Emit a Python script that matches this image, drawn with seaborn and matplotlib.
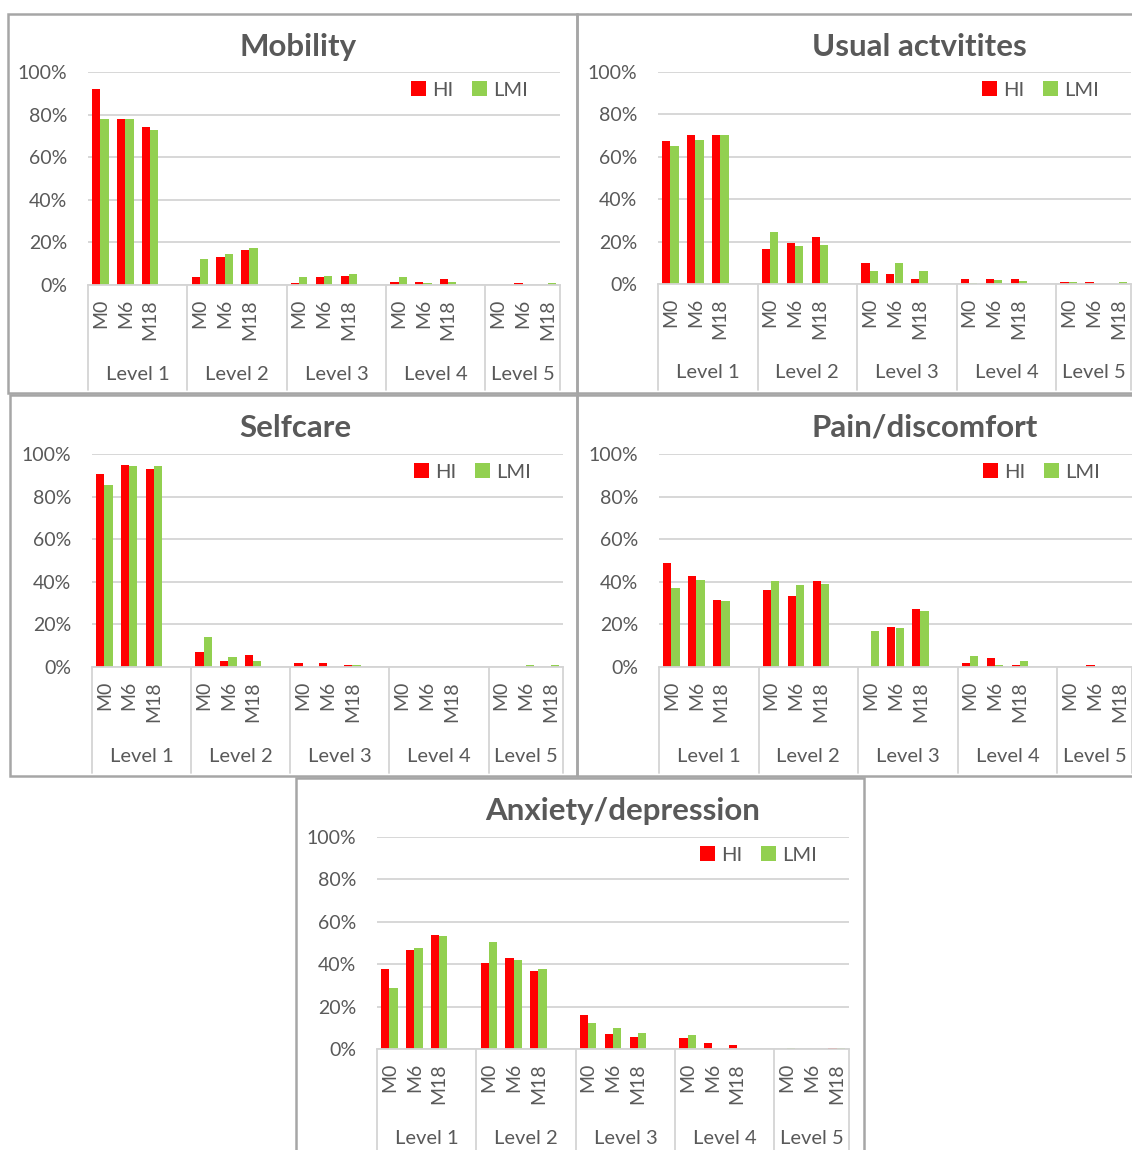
import matplotlib
matplotlib.use('Agg')
import matplotlib.pyplot as plt
from matplotlib.patches import Rectangle
from matplotlib.transforms import blended_transform_factory
import seaborn as sns
import pandas as pd

# ---- data (percent), order: Level 1..5 x M0, M6, M18 ----
levels = ['Level 1', 'Level 2', 'Level 3', 'Level 4', 'Level 5']
periods = ['M0', 'M6', 'M18']
groups = ['HI', 'LMI']

mobility_hi = [92, 78, 74, 3.6, 13.3, 16.6, 0.8, 3.8, 4.4, 1.6, 1.6, 2.7, 0, 0.8, 0]
mobility_lmi = [77.7, 78, 73, 12, 14.7, 17.2, 3.9, 4, 5.2, 3.9, 0.8, 1.6, 0, 0, 0.8]

usual_hi = [67.5, 70.2, 70.5, 16.7, 19.4, 22.3, 9.8, 4.7, 2.5, 2.5, 2.5, 2.5, 0.8, 0.8, 0]
usual_lmi = [65.3, 68, 70.5, 24.4, 18, 18.4, 6.2, 10, 6.1, 0.6, 1.7, 1.4, 0.8, 0, 0.8]

selfcare_hi = [90.7, 94.8, 93, 7, 3, 5.8, 1.9, 1.9, 1.1, 0, 0, 0, 0, 0, 0]
selfcare_lmi = [85.3, 94.2, 94.4, 14.3, 4.5, 3, 0, 0, 0.9, 0, 0, 0, 0, 0.9, 0.9]

pain_hi = [48.6, 42.8, 31.3, 36, 33.5, 40.4, 0, 18.7, 27.1, 2, 4.1, 1.1, 0, 1.1, 0]
pain_lmi = [37.3, 40.9, 30.9, 40.3, 38.4, 39, 16.8, 18.5, 26.3, 5.3, 1.1, 3, 0, 0, 0]

anxiety_hi = [37.8, 46.9, 54, 40.5, 42.7, 36.7, 16, 7.2, 5.8, 5, 3, 1.9, 0, 0, 0.6]
anxiety_lmi = [28.9, 47.6, 53.2, 50.4, 41.8, 37.7, 12.2, 10, 7.7, 6.4, 0, 0, 0.6, 0, 0.6]

# ---- style ----
RED = '#FF0000'
GREEN = '#92D050'
TXT = '#595959'
GRID = '#D4D4D4'
BORDER = '#A6A6A6'

sns.set_style('white')
plt.rcParams['font.family'] = ['Lato', 'DejaVu Sans']

W, H = 1132, 1150
fig = plt.figure(figsize=(W / 100, H / 100), dpi=100)


def px_axes(x0, y0, x1, y1):
    return fig.add_axes([x0 / W, 1 - y1 / H, (x1 - x0) / W, (y1 - y0) / H])


def slot_order():
    order = []
    for i, lev in enumerate(levels):
        for p in periods:
            order.append(f'{lev}|{p}')
        if i < len(levels) - 1:
            order.append(f'{lev}|gap')
    return order


def draw_panel(box, plot, title, title_x, hi, lmi):
    # panel frame
    bx0, by0, bx1, by1 = box
    fig.add_artist(Rectangle((bx0 / W, 1 - by1 / H), (bx1 - bx0) / W, (by1 - by0) / H,
                             transform=fig.transFigure, fill=False,
                             edgecolor=BORDER, linewidth=1.8))
    fig.text(title_x / W, 1 - (by0 + 33) / H, title, ha='center', va='center',
             fontsize=22.5, fontweight='bold', color=TXT)

    rows = []
    for li, lev in enumerate(levels):
        for pi, p in enumerate(periods):
            k = li * 3 + pi
            rows.append({'slot': f'{lev}|{p}', 'group': 'HI', 'value': hi[k]})
            rows.append({'slot': f'{lev}|{p}', 'group': 'LMI', 'value': lmi[k]})
    df = pd.DataFrame(rows)
    order = slot_order()

    ax = px_axes(*plot)
    sns.barplot(data=df, x='slot', y='value', hue='group', order=order,
                hue_order=groups, palette=[RED, GREEN], saturation=1,
                width=0.667, linewidth=0, errorbar=None, ax=ax)

    ax.set_ylim(0, 100)
    ax.set_xlim(-0.5, len(order) - 0.5)
    ax.set_yticks(range(0, 101, 20))
    ax.set_yticklabels([f'{v}%' for v in range(0, 101, 20)])
    ax.yaxis.grid(True, color=GRID, linewidth=1.3)
    ax.set_axisbelow(True)
    for s in ['left', 'right', 'top']:
        ax.spines[s].set_visible(False)
    ax.spines['bottom'].set_color(GRID)
    ax.spines['bottom'].set_linewidth(1.3)
    ax.tick_params(axis='y', length=0, pad=15, labelsize=14, labelcolor=TXT)
    ax.tick_params(axis='x', length=0, pad=10, labelsize=14, labelcolor=TXT)

    ax.set_xticks(range(len(order)))
    ax.set_xticklabels([s.split('|')[1] if not s.endswith('gap') else '' for s in order],
                       rotation=90)
    ax.set_xlabel('')
    ax.set_ylabel('')

    # level separators and labels below the axis
    trans = blended_transform_factory(ax.transData, ax.transAxes)
    depth = (box[3] - plot[3] - 3) / (plot[3] - plot[1])
    bounds = [-0.5, 3.5, 7.5, 11.5, 15.5, len(order) - 0.5]
    for b in bounds:
        ax.plot([b, b], [0, -depth], transform=trans, color=GRID,
                linewidth=1.3, clip_on=False)
    label_y = -(89 / (plot[3] - plot[1]))
    for i, lev in enumerate(levels):
        cx = (bounds[i] + bounds[i + 1]) / 2
        ax.text(cx, label_y, lev, transform=trans, ha='center', va='center',
                fontsize=14.5, color=TXT)

    handles, labels = ax.get_legend_handles_labels()
    ax.legend(handles, labels, loc='center right', bbox_to_anchor=(0.97, 0.915),
              ncol=2, frameon=False, fontsize=14.5, handlelength=0.75,
              handleheight=0.75, handletextpad=0.3, columnspacing=0.9,
              labelcolor=TXT)
    return ax


draw_panel((8, 14, 577, 393), (88, 72, 560, 285), 'Mobility', 298,
           mobility_hi, mobility_lmi)
draw_panel((577, 14, 1140, 393), (658, 72, 1131, 284), 'Usual actvitites', 919,
           usual_hi, usual_lmi)
draw_panel((10, 395, 577, 776), (92, 454, 563, 667), 'Selfcare', 295,
           selfcare_hi, selfcare_lmi)
draw_panel((577, 395, 1140, 776), (659, 454, 1132, 667), 'Pain/discomfort', 925,
           pain_hi, pain_lmi)
draw_panel((296, 778, 864, 1160), (377, 837, 849, 1049), 'Anxiety/depression', 623,
           anxiety_hi, anxiety_lmi)

fig.savefig('out.png', dpi=100, facecolor='white')
print('Saved: out.png')
